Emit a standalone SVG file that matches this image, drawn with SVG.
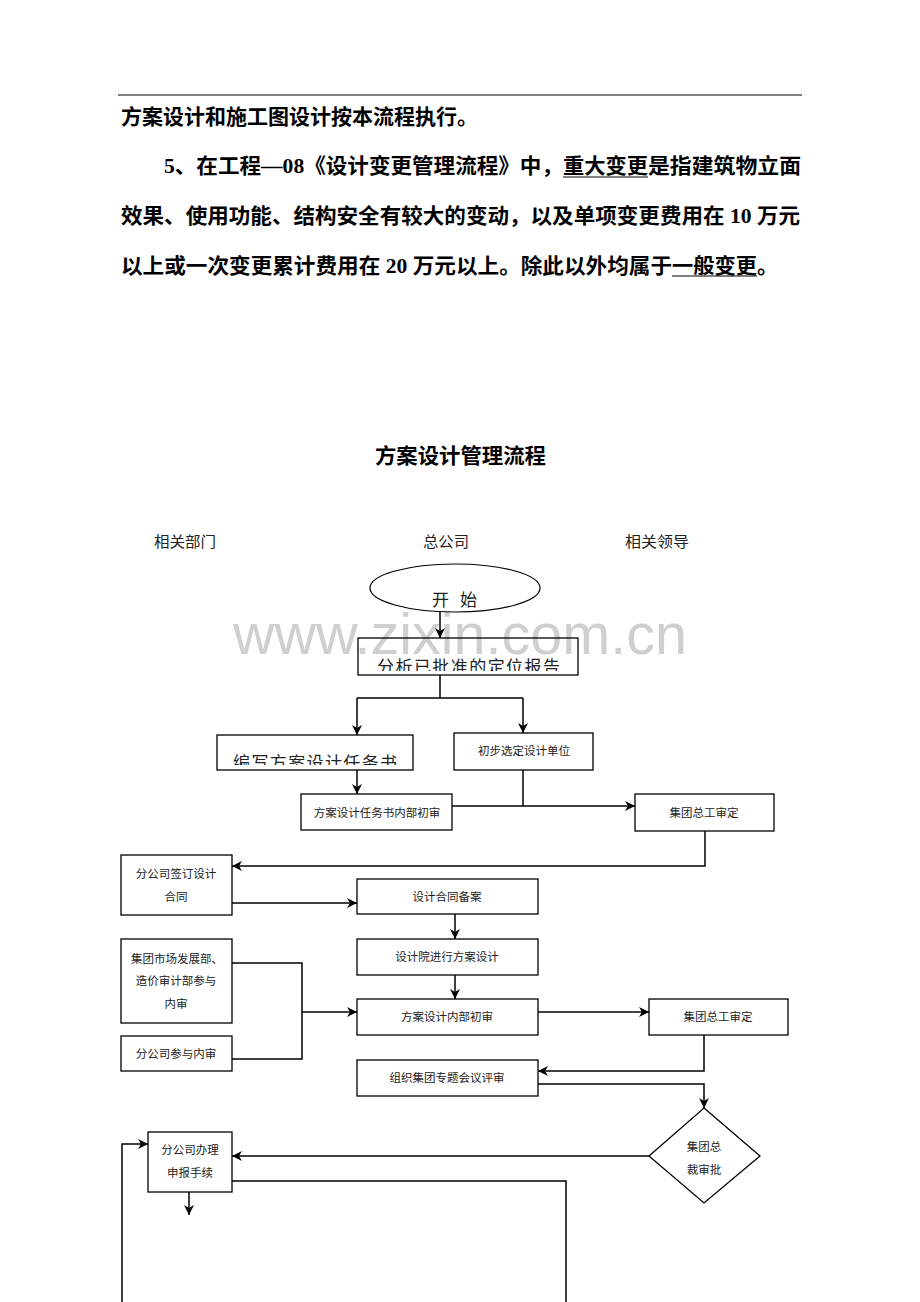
<svg xmlns="http://www.w3.org/2000/svg" width="920" height="1302" viewBox="0 0 920 1302">
<style>
.para{font-family:"Liberation Serif","Noto Sans CJK SC",serif;font-weight:bold;font-size:21px;fill:#000;dominant-baseline:central}
.title{font-family:"Noto Sans CJK SC","Liberation Sans",sans-serif;font-weight:bold;font-size:21px;fill:#000;dominant-baseline:central}
.hdr{font-family:"Noto Sans CJK SC","Liberation Sans",sans-serif;font-size:15px;fill:#222;dominant-baseline:central}
.box{fill:none;stroke:#000;stroke-width:1.3}
.t{font-family:"Noto Sans CJK SC","Liberation Sans",sans-serif;font-size:11.5px;fill:#222;text-anchor:middle;dominant-baseline:central}
.big{font-family:"Noto Sans CJK SC","Liberation Sans",sans-serif;font-size:17px;fill:#222;dominant-baseline:central}
.c{fill:none;stroke:#000;stroke-width:1.5}
.wm{font-family:"Liberation Sans",Arial,sans-serif;font-size:57px;fill:#cfcfcf}
</style>
<defs>
<marker id="ah" markerUnits="userSpaceOnUse" markerWidth="10" markerHeight="10" refX="10" refY="5" orient="auto">
<path d="M0,0 L10,5 L0,10 L3,5 Z" fill="#000"/>
</marker>
<clipPath id="clip1"><rect x="358" y="638" width="220" height="33"/></clipPath>
<clipPath id="clip2"><rect x="217" y="735" width="196" height="30"/></clipPath>
</defs>
<rect width="920" height="1302" fill="#fff"/>

<g id="header-text">
<line x1="118" y1="95" x2="802" y2="95" stroke="#000" stroke-width="1.2"/>
<text class="para" x="121" y="117" textLength="357" lengthAdjust="spacingAndGlyphs">方案设计和施工图设计按本流程执行。</text>
<text class="para" x="164" y="166" textLength="399" lengthAdjust="spacingAndGlyphs">5、在工程—08《设计变更管理流程》中，</text>
<text class="para" x="563" y="166" textLength="85" lengthAdjust="spacingAndGlyphs">重大变更</text>
<text class="para" x="648" y="166" textLength="153" lengthAdjust="spacingAndGlyphs">是指建筑物立面</text>
<line x1="563" y1="177" x2="648" y2="177" stroke="#000" stroke-width="1.2"/>
<text class="para" x="121" y="216" textLength="679" lengthAdjust="spacingAndGlyphs">效果、使用功能、结构安全有较大的变动，以及单项变更费用在 10 万元</text>
<text class="para" x="121" y="266" textLength="551" lengthAdjust="spacingAndGlyphs">以上或一次变更累计费用在 20 万元以上。除此以外均属于</text>
<text class="para" x="672" y="266" textLength="85" lengthAdjust="spacingAndGlyphs">一般变更</text>
<text class="para" x="757" y="266">。</text>
<line x1="672" y1="276" x2="757" y2="276" stroke="#000" stroke-width="1.2"/>
</g>

<g id="title">
<text class="title" x="375" y="454" textLength="171" lengthAdjust="spacingAndGlyphs">方案设计管理流程</text>
<text class="hdr" x="154" y="540" textLength="62" lengthAdjust="spacingAndGlyphs">相关部门</text>
<text class="hdr" x="423" y="540" textLength="46" lengthAdjust="spacingAndGlyphs">总公司</text>
<text class="hdr" x="625" y="540" textLength="64" lengthAdjust="spacingAndGlyphs">相关领导</text>
</g>

<text id="watermark" class="wm" x="233" y="654" textLength="454" lengthAdjust="spacingAndGlyphs">www.zixin.com.cn</text>

<g id="n-start">
<ellipse cx="455" cy="588" rx="85" ry="24" fill="none" stroke="#000" stroke-width="1.2"/>
<text class="big" x="432" y="598" font-size="16" textLength="45" lengthAdjust="spacing">开 始</text>
</g>
<g id="n-analyze">
<rect class="box" x="358" y="638" width="220" height="37"/>
<text class="big" x="377" y="665" textLength="183" lengthAdjust="spacing" clip-path="url(#clip1)">分析已批准的定位报告</text>
</g>
<g id="n-write">
<rect class="box" x="217" y="735" width="196" height="35"/>
<text class="big" x="233" y="761" font-size="18" textLength="164" lengthAdjust="spacing" clip-path="url(#clip2)">编写方案设计任务书</text>
</g>
<g id="n-select">
<rect class="box" x="454" y="733" width="139" height="37"/>
<text class="t" x="524" y="750">初步选定设计单位</text>
</g>
<g id="n-taskreview">
<rect class="box" x="301" y="794" width="151" height="36"/>
<text class="t" x="377" y="812">方案设计任务书内部初审</text>
</g>
<g id="n-chief1">
<rect class="box" x="635" y="794" width="139" height="37"/>
<text class="t" x="704" y="812">集团总工审定</text>
</g>
<g id="n-contract">
<rect class="box" x="121" y="855" width="111" height="60"/>
<text class="t" x="176" y="873">分公司签订设计</text>
<text class="t" x="176" y="896">合同</text>
</g>
<g id="n-record">
<rect class="box" x="357" y="879" width="181" height="35"/>
<text class="t" x="447" y="896">设计合同备案</text>
</g>
<g id="n-design">
<rect class="box" x="357" y="939" width="181" height="36"/>
<text class="t" x="447" y="956">设计院进行方案设计</text>
</g>
<g id="n-internal">
<rect class="box" x="357" y="999" width="181" height="36"/>
<text class="t" x="447" y="1016">方案设计内部初审</text>
</g>
<g id="n-chief2">
<rect class="box" x="649" y="999" width="139" height="36"/>
<text class="t" x="718" y="1016">集团总工审定</text>
</g>
<g id="n-market">
<rect class="box" x="121" y="939" width="111" height="84"/>
<text class="t" x="177" y="958">集团市场发展部、</text>
<text class="t" x="176" y="980">造价审计部参与</text>
<text class="t" x="176" y="1003">内审</text>
</g>
<g id="n-branch">
<rect class="box" x="121" y="1036" width="111" height="35"/>
<text class="t" x="176" y="1053">分公司参与内审</text>
</g>
<g id="n-meeting">
<rect class="box" x="357" y="1060" width="181" height="36"/>
<text class="t" x="447" y="1077">组织集团专题会议评审</text>
</g>
<g id="n-president">
<polygon points="704,1108 760,1156 704,1203 649,1156" fill="none" stroke="#000" stroke-width="1.3"/>
<text class="t" x="704" y="1146">集团总</text>
<text class="t" x="704" y="1169">裁审批</text>
</g>
<g id="n-apply">
<rect class="box" x="148" y="1132" width="84" height="60"/>
<text class="t" x="190" y="1149">分公司办理</text>
<text class="t" x="190" y="1172">申报手续</text>
</g>

<g id="connectors">
<path class="c" d="M440,612 V638" marker-end="url(#ah)"/>
<path class="c" d="M440,675 V698 M357,698 H523"/>
<path class="c" d="M357,698 V735" marker-end="url(#ah)"/>
<path class="c" d="M523,698 V733" marker-end="url(#ah)"/>
<path class="c" d="M357,770 V794" marker-end="url(#ah)"/>
<path class="c" d="M523,770 V806" stroke-width="1.2"/>
<path class="c" d="M452,806 H635" marker-end="url(#ah)"/>
<path class="c" d="M705,831 V866 H232" marker-end="url(#ah)"/>
<path class="c" d="M232,903 H357" marker-end="url(#ah)"/>
<path class="c" d="M455,914 V939" marker-end="url(#ah)"/>
<path class="c" d="M455,975 V999" marker-end="url(#ah)"/>
<path class="c" d="M232,963 H302 V1059 H232" stroke-width="1.2"/>
<path class="c" d="M302,1012 H357" marker-end="url(#ah)"/>
<path class="c" d="M538,1012 H649" marker-end="url(#ah)"/>
<path class="c" d="M704,1035 V1071 H538" marker-end="url(#ah)"/>
<path class="c" d="M538,1084 H704 V1108" marker-end="url(#ah)"/>
<path class="c" d="M649,1156 H232" marker-end="url(#ah)"/>
<path class="c" d="M189,1192 V1215" marker-end="url(#ah)"/>
<path class="c" d="M232,1181 H566 V1302" stroke-width="1.2"/>
<path class="c" d="M122,1302 V1144 H148" marker-end="url(#ah)"/>
</g>
</svg>
